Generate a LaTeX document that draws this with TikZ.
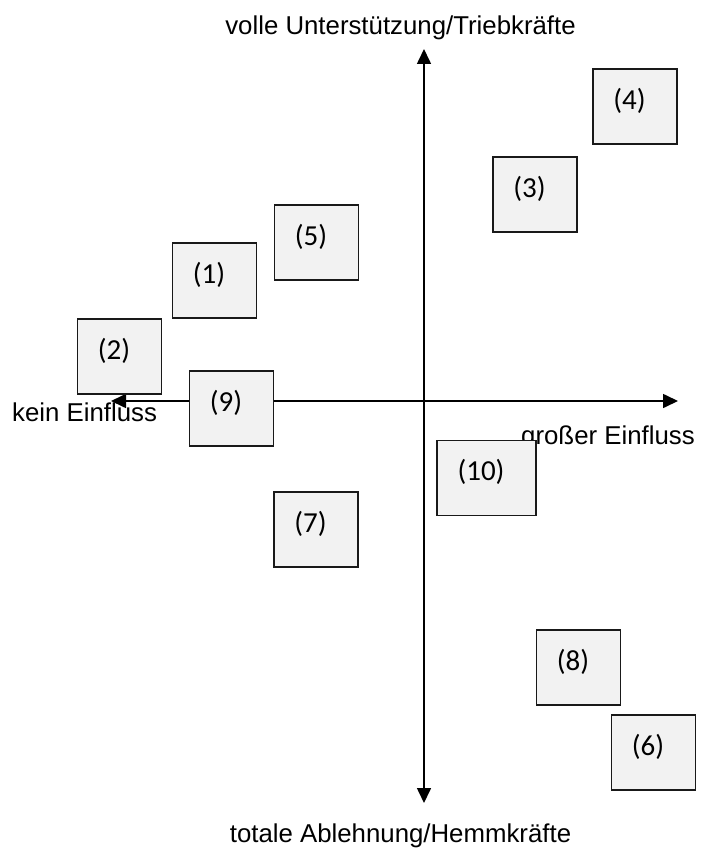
\documentclass[tikz,border=0pt]{standalone}
\usepackage{fontspec}
\setmainfont{Liberation Sans}
\newfontfamily\boxfont{Carlito}
\usetikzlibrary{arrows.meta,calc}
\definecolor{boxfill}{HTML}{F2F2F2}
\tikzset{
  axis/.style={line width=1.6pt,-{Triangle[length=15pt,width=14pt]}},
  qbox/.style={draw=black!90,line width=1.3pt,fill=boxfill,minimum width=84pt,minimum height=75pt,inner sep=0pt},
  qlbl/.style={font=\boxfont\fontsize{29}{33}\selectfont,inner sep=0pt},
  axlbl/.style={font=\fontsize{25.8}{30}\selectfont,inner sep=0pt}
}
\begin{document}
\begin{tikzpicture}[x=1pt,y=-1pt]
\useasboundingbox (0,0) rectangle (715,856);
\coordinate (o) at (424,401);
\coordinate (top) at (424,49);
\coordinate (bot) at (424,803);
\coordinate (lft) at (111,401);
\coordinate (rgt) at (678,401);
\draw[axis] (o) -- (top);
\draw[axis] (o) -- (bot);
\draw[axis] (o) -- (lft);
\draw[axis] (o) -- (rgt);
\node[axlbl] (tl) at (400.5,28) {volle Unterstützung/Triebkräfte};
\node[axlbl] (bl) at (400.5,836) {totale Ablehnung/Hemmkräfte};
\node[axlbl,anchor=west] (ll) at (12,412) {kein Einfluss};
\node[axlbl,anchor=west] (rl) at (521,438) {großer Einfluss};
% boxes
\foreach \n/\cx/\cy/\w in {4/635/106.5/84, 3/535/194.5/84, 5/316.5/242.5/84, 1/214.5/280.5/84, 2/119.5/356.5/84, 9/231.5/408.5/84, 10/486.5/478/99, 7/316/529.5/84, 8/578.5/667.5/84, 6/653.5/752.5/84}{
  \node[qbox,minimum width=\w pt] (b\n) at (\cx,\cy) {};
  \node[qlbl] (l\n) at ($(b\n)+(-5.5,-6)$) {(\n)};
}
\end{tikzpicture}
\end{document}
